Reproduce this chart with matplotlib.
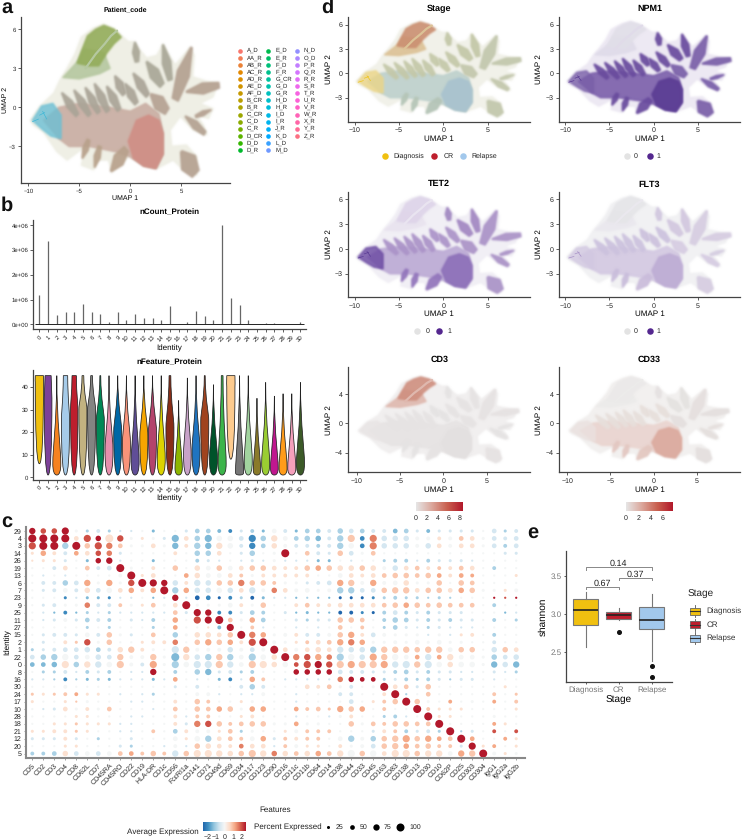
import math
import numpy as np
import matplotlib
matplotlib.use("Agg")
import matplotlib.pyplot as plt
from matplotlib.colors import LinearSegmentedColormap
from matplotlib.patches import Polygon, PathPatch, Rectangle
from matplotlib.path import Path

plt.rcParams['font.family'] = ['Liberation Sans', 'DejaVu Sans']
plt.rcParams['text.hinting'] = 'no_hinting'
plt.rcParams['text.hinting_factor'] = 1

W, H = 744, 840

# ---- umap outline
haze_x = [-9.8, -8.9, -7.5, -6.9, -6.2, -5.4, -4.8, -3.6, -2.6, -1.5, -0.2, 0.3, 0.95, 1.6, 2.6, 3.2, 3.7, 4.4, 5.85, 6.25, 6.1, 7.5, 8.6, 8.1, 6.8, 8.1, 7.65, 6.5, 7.15, 7.5, 6.2, 4.9, 3.9, 4.05, 5.5, 6.5, 6.5, 5.2, 4.2, 2.6, 1.3, -0.2, -1.8, -2.15, -3.3, -3.6, -4.8, -4.4, -6.2, -7.2, -8.5, -9.5]
haze_y = [-1.0, 0.05, 1.1, 2.1, 3.0, 4.15, 5.4, 6.1, 6.4, 5.95, 5.05, 5.05, 4.4, 3.8, 4.0, 4.85, 4.15, 3.25, 4.6, 4.0, 2.35, 2.0, 1.9, 0.8, 0.3, -0.1, -0.85, -0.6, -1.35, -2.1, -1.75, -0.7, -1.75, -3.0, -2.9, -3.8, -5.2, -4.8, -4.05, -4.7, -4.3, -3.8, -4.95, -4.05, -4.05, -4.8, -4.45, -3.0, -4.05, -3.4, -1.9, -1.35]
top_x = [-4.8, -4.2, -3.4, -2.6, -1.6, -0.9, -1.6, -2.3, -3.1, -4.0, -5.2]
top_y = [4.3, 5.5, 6.0, 6.3, 6.0, 5.4, 4.9, 4.2, 3.2, 3.2, 3.4]
band_x = [-6.6, -5.2, -4.5, -2.6, -2.0, -3.0, -5.0]
band_y = [2.3, 3.5, 4.5, 4.2, 3.0, 2.6, 2.2]
body_x = [-8.5, -7.0, -5.0, -2.0, 0.0, 1.5, 2.8, 3.2, 3.2, 2.5, 1.3, 0.0, -1.5, -4.0, -6.0, -7.0]
body_y = [-1.0, 0.0, 0.3, 0.0, -0.3, 0.3, -0.5, -2.0, -3.6, -4.7, -4.5, -3.8, -3.4, -3.0, -3.0, -2.4]
centre_x = [0.6, 1.8, 2.8, 3.2, 3.2, 2.5, 1.3, 0.3, -0.2]
centre_y = [-1.0, -0.6, -1.0, -2.0, -3.6, -4.7, -4.5, -3.9, -2.6]
left_x = [-9.6, -8.7, -7.6, -6.8, -6.8, -7.8, -8.6]
left_y = [-1.0, 0.1, 0.3, -0.6, -2.4, -2.2, -1.7]
gap_x = [-4.4, -3.4, -2.5, -1.9, -1.3]
gap_y = [3.0, 4.1, 4.9, 5.5, 5.9]

# arms as x0, y0, x1, y1, half width
fan_arms = [(-6.7, 1.1, -5.2, -0.6, .35), (-5.5, 1.3, -4.0, -0.6, .35), (-4.4, 1.5, -3.1, -0.4, .35), (-3.5, 1.8, -2.2, -0.3, .38),
            (-2.3, 1.6, -1.1, -0.2, .38), (-1.5, 2.4, -0.6, 1.0, .38), (-0.5, 1.8, 0.6, 0.3, .38), (0.3, 2.6, 1.7, 0.9, .4)]
upper_arms = [(0.45, 5.0, 0.65, 3.5, .33), (3.2, 4.8, 3.9, 2.1, .42), (1.6, 3.5, 3.1, 1.7, .5)]
right_arms = [(6.0, 4.6, 4.4, 0.6, .62), (2.0, 1.0, 3.6, -0.3, .6), (5.5, 1.2, 8.7, 1.7, .42), (5.4, -0.7, 7.3, -2.0, .33),
              (7.9, -0.2, 6.4, -0.7, .18), (5.0, -3.4, 6.4, -5.1, .85)]
low_arms = [(-1.9, -4.9, -0.4, -3.2, .55), (-3.5, -4.6, -3.0, -3.0, .3), (-4.7, -3.9, -4.1, -2.5, .28)]
strands = [(-9.6, -1.1, -9.0, -0.9), (-8.6, -0.3, -8.2, -0.9), (-8.9, -0.6, -8.4, -0.4)]

pal_a = dict(haze='#efefe6', top='#93ad5a', band='#b5c8a0', body='#c9aea3', centre='#d08f86', fan='#aaa597', upper='#aaa897', right='#b5a292', low='#b9a28c', left='#6cc0d4', strand='#3fb8d6')
pal_stage = dict(haze='#f1f1ea', top='#cb8f72', band='#dcc296', body='#bed0cd', centre='#a8c3cf', fan='#c5c9a9', upper='#c3c8a8', right='#c3c7ad', low='#b5c5b8', left='#ebd688', strand='#f0c419')
pal_npm1 = dict(haze='#eeeaf3', top='#e2dfe8', band='#e0dbe9', body='#7a5eaa', centre='#5b3c94', fan='#6a4c9e', upper='#6a4c9e', right='#7a5fa9', low='#6a4c9e', left='#7a5fa9', strand='#5b3c94')
pal_tet2 = dict(haze='#f2eff6', top='#ded5e9', band='#e9e4f0', body='#bca9d4', centre='#8c6fb8', fan='#ab93c9', upper='#a288c2', right='#ab93c8', low='#9276bb', left='#6a48a2', strand='#5b3c94')
pal_flt3 = dict(haze='#f1f1f3', top='#e6e6e8', band='#eae8ee', body='#d3c8e2', centre='#bdacd4', fan='#cdc2de', upper='#d2c8e0', right='#d6cde2', low='#cabddc', left='#d3c8e2', strand='#a993c8')
pal_cd3 = dict(haze='#f1efef', top='#cf8f80', band='#dfb8ae', body='#e6e3e3', centre='#e4e1e1', fan='#e6e3e3', upper='#e6e3e3', right='#e6e3e3', low='#e6e3e3', left='#e8e5e5', strand=None)
pal_cd33 = dict(haze='#f2f0ef', top='#ebe9e9', band='#ecebea', body='#ead5d0', centre='#dba99d', fan='#e7dfdc', upper='#e5e2e1', right='#e5e0de', low='#e3c8c1', left='#ebe2df', strand=None)

# ---- patient legend
patients_a = ['A_D', 'AA_R', 'AB_R', 'AC_R', 'AD_R', 'AE_D', 'AF_D', 'B_CR', 'B_R', 'C_CR', 'C_D', 'C_R', 'D_CR', 'D_D', 'D_R']
patients_b = ['E_D', 'E_R', 'F_D', 'F_R', 'G_CR', 'G_D', 'G_R', 'H_D', 'H_R', 'I_D', 'I_R', 'J_R', 'K_D', 'L_D', 'M_D']
patients_c = ['N_D', 'O_D', 'P_R', 'Q_R', 'R_R', 'S_R', 'T_R', 'U_R', 'V_R', 'W_R', 'X_R', 'Y_R', 'Z_R']

# ---- panel b
clusters = list(range(31))
ncount = [1.18, 3.37, .38, .5, .48, .82, .5, .42, .1, .51, .17, .42, .24, .25, .17, .75, .03, .08, .54, .33, .17, 4.02, 1.08, .79, .16, .02, .06, .04, .03, .02, .09]
vio_colors = ['#F0C010', '#7D4199', '#F58220', '#A6CBE9', '#BE1E2D', '#C2B280', '#848482', '#008856', '#E68FAC', '#0067A5', '#F99379', '#604E97', '#F6A600', '#B3446C', '#DCD300', '#882D17',
              '#8DB600', '#C8A2C8', '#1F74C0', '#A0431F', '#00532A', '#3CB44B', '#FDCB8E', '#777777', '#A2D49F', '#8A7A2A', '#9ACD32', '#C0178F', '#FF9C1A', '#F5A0BC', '#3C5A28']
vio_low = [6, 1, 1, 1, 1, 1, 1, 1, 1, 1, 1, 1, 1, 1, 1, 1, 1, 1, 1, 1, 1, 1, 8, 1, 1, 1, 1, 1, 1, 1, 1]
vio_mode = [42, 35, 6, 25, 30, 30, 30, 25, 12, 20, 15, 7, 18, 20, 8, 22, 4, 10, 12, 25, 8, 6, 40, 2, 7, 3, 6, 4, 4, 4, 6]
vio_high = [45, 45, 45, 45, 45, 45, 45, 45, 45, 45, 45, 45, 45, 45, 45, 45, 34, 44, 45, 45, 41, 45, 45, 45, 45, 35, 42, 36, 37, 37, 42]
vio_topw = [.47, .35, 0, .25, .25, .1, .1, .05, 0, 0, 0, 0, 0, 0, 0, .1, 0, 0, 0, .05, 0, .1, .47, 0, 0, 0, 0, 0, 0, 0, 0]
vio_midw = [.47, .44, .46, .47, .42, .46, .46, .46, .46, .46, .46, .46, .46, .46, .46, .46, .42, .44, .46, .46, .46, .46, .47, .46, .46, .42, .46, .44, .46, .46, .46]

# ---- panel c, one letter per cell (groups of five just for counting)
features = ['CD5', 'CD2', 'CD3', 'CD4', 'CD8', 'CD62L', 'CD7', 'CD45RA', 'CD45RO', 'CD22', 'CD19', 'HLA-DR', 'CD1c', 'CD56', 'FcεRI1a', 'CD141', 'CD71', 'CD49d', 'CD69', 'CD34', 'CD117', 'CD123', 'CD90',
            'CD16', 'CD11c', 'CD11b', 'CD64', 'CD14', 'CD38', 'CD44', 'CD33', 'CD45', 'CD163', 'CD83', 'CD138', 'CD13', 'CD30', 'CD10', 'CD62P', 'CD25', 'CD303', 'CD304', 'IgG1', 'IgG2a', 'IgG2b']
identities = ['29', '4', '3', '14', '26', '19', '13', '6', '7', '23', '9', '25', '11', '27', '15', '2', '1', '22', '0', '8', '16', '30', '24', '17', '10', '28', '18', '21', '12', '20', '5']
expr_codes = dict(A=-2.5, B=-2.0, C=-1.4, D=-1.0, E=-.55, F=-.05, G=.5, H=.85, I=1.2, J=1.6, K=2.0, L=2.5)
expr_rows = ['LKKLF DEDEE FCFFE DDCBE DCFEC DDEDE DEECD ECEEE EFEDE',
             'LLLLG KLGKF GFECG DCFFE BDGFD DCEDH BJEEE FFGFH GFEEE',
             'KLLDL HKJHF FGFCG DCGFE BDGFE EDEDF BJEEE FEGFG GFEDE',
             'GIGEI GKJEF FFFGF DDGFE DFFLF HEEHE FHFFF FFFFF FFFEE',
             'GGGEF CLLEF FCFFF DEEFE EEFEE ECCFE FFDDD EDEEE EFFFF',
             'FFEGF HEELF FGFHF GFHFG HHGGG HIHGG HGFEG HGHGH GFDFF',
             'FEFEF FFFFL GGFFI GFFGH FGGGG GFFFG GGHHH HHIGI IFFFG',
             'FEEDE IFIFK LLLEG EEHHJ HHHFF EEEIH FIFFG FFHFH HFFFF',
             'FEEFE GEFGI GILDI EEFEG EFJGF FFFDD EEHHH GHHGI HFFGF',
             'FFFBE CCBEE FCELE ABABD ACEEC DCCAA ABDDD DDDDF FFLKL',
             'FEEFF JEEHF GHFGL FFFFG FHFFG HGGGG GGHHI HHHHH HFDFF',
             'FECBC DEDEE EEEHE LLBBE DDFEC CCCAA BADED EDEEE FFFCE',
             'FEEFE DEDFE EDFIF KLLHF IDFFE DEEHH HFDDD EDEDE EFDFD',
             'FFFFF DFDFF FDFIF FGCLF HEFFE FEFHF HFDDE EDEEE EFFFF',
             'FEEEE FEHFE FHFDF GGGHL JIFFG EEFHI GEFFF FEFEG GFDFF',
             'FEFGH KFHFF GGGJF HIHIG KLFFG HGHIJ IFFFF FFFFF FFEFF',
             'DEEEE EDEGH GFFEH FFFEF EFLGF GGGEE EDHHH HHHFH HFEHG',
             'EDDFE FEEHF FHFCG EDHDF DFGLJ KIJDF EIHFF IEIGF FFDEE',
             'CCCGD GEFHF EIFDF EEHEF HGGFK KLKHI HHIEE HEFGF FFCEC',
             'FDDEE DEDFE ELFDF DCEED DFFFL LLLEE EEEDD EDEEE EFEED',
             'EEDBD CDCEE ECEIF EFCBE IHFEE EEEJL LLDED DDEDE EFEFF',
             'FFFFF FFFFF FFFEF EFFFE DEFFF GGHFE FFLGH EHFFF FFFGF',
             'HGHHI GGFEF EDFFF FFEFE EFFFE FFFEE FFGLD FHFFF FFHFH',
             'GFFGH FFFFE EFFGF HHFFG FFFFE FFFFE FGHHL HFFIF FFIFH',
             'FEEGF GFHFF FEFHF HHIHF IIFFI HHHIH IFHFF LHGGG FFFFG',
             'FFFFG GFFFE EFFGE HHFFG GFFFE FFEFG FFDDE FLGGF FFFFF',
             'FFGGH GGGEE FFFGE JKHHH HHFFI FFFFH FHHHH HHLFF FFIGF',
             'GGGGH GFFEE FHFDG FFGHD FFFGF HHHFF FEGHD EEDLD EFKFK',
             'EEEGE FDFFE FFFFG FDGHH FIEHG HHFFD FDHHI HIIHL IFFIG',
             'FFFGG FFFED FFEFE HGGGJ GGEHF GGFGF FEHHI HHHHE LGIFG',
             'DDDGE FEFHI HHHEH GGGGH HGJGH GIHGF HFGGG HGGFI HLFGF']
pct_rows = ['65572 23211 12112 44332 32432 44354 43344 23222 21423',
            '88884 75862 22274 57554 75644 55367 47555 33334 42434',
            '78868 57642 24263 66653 64533 33365 47555 35434 42434',
            '25334 45521 11131 55412 51281 43254 24111 11111 11122',
            '12221 25611 12111 32111 21211 12211 11233 13222 11111',
            '11341 43482 13151 54544 55433 55555 55354 43334 41311',
            '11111 11138 24114 54443 23333 31144 34455 45434 31112',
            '13354 62626 87653 65556 55322 23466 36345 22515 41111',
            '12343 54545 35865 55554 63543 42366 44566 45545 52223',
            '11121 22211 11161 44232 32111 11122 22232 21211 11111',
            '12322 53332 24248 22243 25113 43344 44455 54544 41311',
            '11131 21211 11142 76332 43121 21133 22343 23222 11111',
            '11232 43312 13151 77842 54112 22255 41354 23232 21312',
            '11111 21211 12141 11371 31111 11141 31242 12211 11111',
            '12332 43522 14152 55458 65233 33356 34322 21212 31311',
            '12132 62511 23351 56553 78322 34466 52232 42422 11311',
            '22344 54356 32176 33353 43843 45465 56666 56645 51554',
            '45664 45463 36286 56664 75586 66576 57664 46464 42545',
            '44575 66573 37275 77764 77554 77677 77767 67555 52656',
            '12231 32311 16131 56232 31115 55543 32234 23221 11212',
            '11131 22211 12141 11231 53111 11155 44223 23212 21111',
            '11131 11111 11121 31113 53111 43423 12844 25111 11121',
            '22233 22111 12111 33111 13111 11133 11381 14111 11312',
            '21121 21111 11131 53112 21111 11114 12358 52131 21313',
            '11242 32411 11141 54552 55114 34265 51311 83222 11112',
            '11112 21111 11131 33112 31111 11123 11231 18221 11211',
            '11222 22211 11132 66534 55224 22115 24355 44811 11321',
            '22332 21111 13143 33242 21123 33311 12333 23281 21313',
            '22232 12112 11142 56443 45233 33146 35567 56448 41132',
            '11122 11122 11131 55434 44133 22132 34565 45332 72312',
            '33454 44444 35365 77655 76554 55467 56477 56646 68322']
legend_pct = [25, 50, 75, 100]
expr_ticks = [-2, -1, 0, 1, 2]

# ---- panel e
stages = ['Diagnosis', 'CR', 'Relapse']
stage_colors = ['#F0C010', '#BE1E2D', '#A2C8EC']
q1 = [2.86, 2.93, 2.80]
med = [3.055, 2.985, 2.92]
q3 = [3.19, 3.02, 3.09]
whislo = [2.57, 2.92, 2.39]
whishi = [3.29, 3.08, 3.26]
fliers = [[], [2.77], [2.315, 2.18]]
pvals = ['0.67', '0.37', '0.14']
p_from = [1, 2, 1]
p_to = [2, 3, 3]
p_y = [3.35, 3.47, 3.61]


def hcl(h, c=100, l=65):
    u, v = c * math.cos(math.radians(h)), c * math.sin(math.radians(h))
    y = ((l + 16) / 116) ** 3
    up, vp = u / (13 * l) + .1978, v / (13 * l) + .4683
    x = 9 * y * up / (4 * vp)
    z = -x / 3 - 5 * y + 3 * y / vp
    rgb = [3.2406 * x - 1.5372 * y - .4986 * z, -.9689 * x + 1.8758 * y + .0415 * z, .0557 * x - .204 * y + 1.057 * z]
    out = []
    for ch in rgb:
        ch = min(max(ch, 0), 1)
        out.append(1.055 * ch ** (1 / 2.4) - .055 if ch > .0031 else 12.92 * ch)
    return tuple(out)


def axpx(l, t, r, b):
    ax = fig.add_axes([l / W, 1 - b / H, (r - l) / W, (b - t) / H])
    ax.spines['top'].set_visible(False)
    ax.spines['right'].set_visible(False)
    for s in ['left', 'bottom']:
        ax.spines[s].set_linewidth(.9)
        ax.spines[s].set_color('#444444')
    return ax


def soft_edge(img, dpi):
    # blur only the alpha, the patches are one colour each
    pad = 5
    a = np.pad(img, ((pad, pad), (pad, pad), (0, 0)))
    alpha = a[:, :, 3]
    if alpha.max() == 0:
        return img, 0, 0
    rgb = a[alpha > .5][:, :3].mean(axis=0) if (alpha > .5).any() else a[alpha > 0][:, :3].mean(axis=0)
    k = [.06, .24, .4, .24, .06]
    for axis in (0, 1):
        alpha = sum(w * np.roll(alpha, s, axis=axis) for w, s in zip(k, [-2, -1, 0, 1, 2]))
    a[:, :, :3] = rgb
    a[:, :, 3] = alpha
    return a, -pad, -pad


def blob(ax, xs, ys, color, alpha=.9, z=2):
    p = Polygon(np.column_stack([xs, ys]), closed=True, fc=color, ec=color, lw=1.2, alpha=alpha, joinstyle='round', zorder=z)
    p.set_agg_filter(soft_edge)
    ax.add_patch(p)


def spindle(ax, arm, color, z=4):
    x0, y0, x1, y1, w = arm
    dx, dy = x1 - x0, y1 - y0
    n = math.hypot(dx, dy)
    mx, my = (x0 + x1) / 2, (y0 + y1) / 2
    xs = [x0 - .1 * w * dy / n, mx - w * dy / n, x1 - .5 * w * dy / n, x1 + .5 * w * dy / n, mx + w * dy / n, x0 + .1 * w * dy / n]
    ys = [y0 + .1 * w * dx / n, my + w * dx / n, y1 + .5 * w * dx / n, y1 - .5 * w * dx / n, my - w * dx / n, y0 - .1 * w * dx / n]
    blob(ax, xs, ys, color, alpha=.92, z=z)


def umap(box, ylab_px, xl, yl, yt, pal, title, lab=6, tick=5, tsize=6.5, tpad=2, lpad=1):
    ax = axpx(*box)
    blob(ax, haze_x, haze_y, pal['haze'], alpha=1, z=1)
    blob(ax, band_x, band_y, pal['band'], z=2)
    blob(ax, top_x, top_y, pal['top'], z=3)
    ax.plot(gap_x, gap_y, color=pal['band'], lw=1.6, solid_capstyle='round', zorder=3.5)
    blob(ax, body_x, body_y, pal['body'], z=3)
    blob(ax, left_x, left_y, pal['left'], alpha=.8, z=3)
    for arm in fan_arms:
        spindle(ax, arm, pal['fan'])
    for arm in upper_arms:
        spindle(ax, arm, pal['upper'])
    for arm in right_arms:
        spindle(ax, arm, pal['right'])
    for arm in low_arms:
        spindle(ax, arm, pal['low'])
    blob(ax, centre_x, centre_y, pal['centre'], z=5)
    if pal['strand']:
        for s in strands:
            ax.plot(s[::2], s[1::2], color=pal['strand'], lw=.5, solid_capstyle='round', zorder=6)
    ax.set_xlim(*xl)
    ax.set_ylim(*yl)
    ax.set_xticks([-10, -5, 0, 5])
    ax.set_yticks(yt)
    ax.tick_params(length=2, width=.6, color='#444444', labelsize=tick, labelcolor='#222222', pad=tpad)
    ax.set_xlabel('UMAP 1', fontsize=lab, labelpad=lpad)
    ax.set_ylabel('UMAP 2', fontsize=lab)
    ax.yaxis.set_label_coords(-(box[0] - ylab_px - 3) / (box[2] - box[0]), .5)
    ax.set_title(title, fontsize=tsize, fontweight='bold', pad=4)
    return ax


fig = plt.figure(figsize=(W / 100, H / 100), dpi=100)

# ---- a
umap((20.6, 17, 230, 183.3), 5.5, (-10.76, 9.77), (-5.84, 6.95), [-3, 0, 3, 6], pal_a, 'Patient_code', lab=4.8, tick=4, tsize=5.4, tpad=1.5, lpad=1)

# ---- d
XD = (-10.7, 9.75)
umap((348.3, 16.7, 530, 121.7), 329.5, XD, (-5.97, 6.99), [-3, 0, 3, 6], pal_stage, 'Stage')
umap((559, 16.7, 740, 121.7), 540, XD, (-5.97, 6.99), [-3, 0, 3, 6], pal_npm1, 'NPM1')
umap((348.3, 192, 530, 297), 329.5, XD, (-5.82, 6.9), [-3, 0, 3, 6], pal_tet2, 'TET2')
umap((559, 192, 740, 297), 540, XD, (-5.82, 6.9), [-3, 0, 3, 6], pal_flt3, 'FLT3')
umap((348.3, 367.3, 530, 472.3), 329.5, (-10.96, 10), (-6.68, 7.64), [-4, 0, 4], pal_cd3, 'CD3')
umap((559, 367.3, 740, 472.3), 540, (-10.96, 10), (-6.68, 7.64), [-4, 0, 4], pal_cd33, 'CD33')

# ---- b top
ax = axpx(33.3, 220, 305.7, 329.3)
ax.vlines(clusters, 0, ncount, color='#666666', lw=.9)
ax.hlines(0, -.45, 30.45, color='#222222', lw=.7)
ax.set_xlim(-.7, 30.6)
ax.set_ylim(-.2, 4.22)
ax.set_yticks([0, 1, 2, 3, 4])
ax.set_yticklabels(['0e+00', '1e+06', '2e+06', '3e+06', '4e+06'])
ax.set_xticks(clusters)
ax.set_xticklabels(clusters, rotation=45, ha='right', rotation_mode='anchor')
ax.tick_params(length=2, width=.6, color='#444444', labelsize=4.6, labelcolor='#222222', pad=1.5)
ax.set_xlabel('Identity', fontsize=5.5, labelpad=1)
ax.set_title('nCount_Protein', fontsize=6, fontweight='bold', pad=4)

# ---- b violins
ax = axpx(33.3, 370, 305.7, 480)
for i in clusters:
    lo, mo, hi, tw, w = vio_low[i], vio_mode[i], vio_high[i], vio_topw[i], vio_midw[i]
    right = [(i + w * .7, lo), (i + w, mo - (mo - lo) * .6), (i + w, mo), (i + w, mo + (hi - mo) * .2), (i + tw + .03, mo + (hi - mo) * .42), (i + tw, hi)]
    left = [(2 * i - px, py) for px, py in right[::-1]]
    verts = [(i, lo)] + right + left + [(i, lo)]
    codes = [Path.MOVETO] + [Path.CURVE4] * 6 + [Path.LINETO] + [Path.CURVE4] * 6
    ax.add_patch(PathPatch(Path(verts, codes), fc=vio_colors[i], ec='#222222', lw=.55))
ax.set_xlim(-.7, 30.6)
ax.set_ylim(-1.2, 47.5)
ax.set_yticks([0, 10, 20, 30, 40])
ax.set_xticks(clusters)
ax.set_xticklabels(clusters, rotation=45, ha='right', rotation_mode='anchor')
ax.tick_params(length=2, width=.6, color='#444444', labelsize=4.6, labelcolor='#222222', pad=1.5)
ax.set_xlabel('Identity', fontsize=5.5, labelpad=1)
ax.set_title('nFeature_Protein', fontsize=6, fontweight='bold', pad=4)

# ---- c
dot_cmap = LinearSegmentedColormap.from_list('dot', ['#2166ac', '#4393c3', '#92c5de', '#d1e5f0', '#f7f7f7', '#fddbc7', '#f4a582', '#d6604d', '#b2182b'])


def dot_size(pct):
    return ((1.4 + .066 * pct) * .72) ** 2


ax = axpx(25.7, 527, 525, 758)
for r, (er, pr) in enumerate(zip(expr_rows, pct_rows)):
    ev = [expr_codes[c] for c in er.replace(' ', '')]
    pv = [int(c) * 12.5 for c in pr.replace(' ', '')]
    ax.scatter(range(len(ev)), [r] * len(ev), c=ev, s=[dot_size(p) for p in pv], cmap=dot_cmap, vmin=-2.5, vmax=2.5, linewidths=0)
ax.set_xlim(-.6, 44.8)
ax.set_ylim(30.6, -.54)
ax.set_xticks(range(len(features)))
ax.set_xticklabels(features, rotation=45, ha='right', rotation_mode='anchor')
ax.set_yticks(range(len(identities)))
ax.set_yticklabels(identities)
ax.tick_params(length=1.5, width=.5, color='#777777', labelsize=5.3, labelcolor='#222222', pad=1.5)
ax.spines['left'].set_linewidth(1.5)
ax.spines['bottom'].set_linewidth(1.5)
ax.spines['left'].set_color('#888888')
ax.spines['bottom'].set_color('#888888')
ax.set_ylabel('Identity', fontsize=5.8, labelpad=1.5)

# ---- e
ax = axpx(565.7, 550.7, 671.7, 682.3)
stats = [dict(med=med[i], q1=q1[i], q3=q3[i], whislo=whislo[i], whishi=whishi[i], fliers=fliers[i]) for i in range(3)]
bp = ax.bxp(stats, positions=[1, 2, 3], widths=.76, patch_artist=True,
            boxprops=dict(edgecolor='#777777', linewidth=.8), medianprops=dict(color='#222222', linewidth=1.2),
            whiskerprops=dict(color='#777777', linewidth=.8), showcaps=False,
            flierprops=dict(marker='o', markersize=2.6, markerfacecolor='#111111', markeredgecolor='#111111'))
for b, c in zip(bp['boxes'], stage_colors):
    b.set_facecolor(c)
for a, b, y, p in zip(p_from, p_to, p_y, pvals):
    ax.plot([a, a, b, b], [y - .03, y, y, y - .03], color='#888888', lw=.7)
    ax.text((a + b) / 2, y - .005, p, ha='center', va='bottom', fontsize=6.2, color='#222222')
ax.set_xlim(.394, 3.606)
ax.set_ylim(2.108, 3.826)
ax.set_yticks([2.5, 3.0, 3.5])
ax.set_yticklabels(['2.5', '3.0', '3.5'])
ax.set_xticks([1, 2, 3])
ax.set_xticklabels(stages)
ax.tick_params(length=1.5, width=.6, color='#444444', labelsize=6, labelcolor='#777777', pad=1.5)
ax.set_xlabel('Stage', fontsize=7.3, labelpad=1)
ax.set_ylabel('shannon', fontsize=7.3, labelpad=2)

# ---- overlay for letters, legends and colour bars
ov = fig.add_axes([0, 0, 1, 1], facecolor='none', zorder=20)
ov.set_xlim(0, W)
ov.set_ylim(H, 0)
ov.axis('off')
for letter, x, y in [('a', 1, 8), ('b', 1, 206), ('c', 1, 522), ('d', 321, 8), ('e', 527, 533)]:
    ov.text(x, y, letter, fontsize=14.5, fontweight='bold', ha='left', va='center', color='#111111')

hue_i = 0
n_pat = len(patients_a) + len(patients_b) + len(patients_c)
for names, dx, tx in [(patients_a, 240, 246.7), (patients_b, 268.3, 275.3), (patients_c, 297.3, 304)]:
    for k, name in enumerate(names):
        y = 50.7 + k * 7.09
        ov.scatter([dx], [y], s=11, color=[hcl(15 + 360 * hue_i / n_pat)], linewidths=0)
        ov.text(tx, y, name, fontsize=4, va='center', color='#222222')
        hue_i += 1

for name, c, dx, tx in zip(stages, stage_colors, [384.7, 434.3, 462.7], [393.7, 443.3, 471.7]):
    ov.scatter([dx], [156], s=22, color=c, linewidths=0)
    ov.text(tx, 156, name, fontsize=5.2, va='center', color='#222222')
for y, d0, t0, d1, t1 in [(156, 627, 636, 649.7, 658), (331.3, 417.3, 427.7, 439, 449.7), (331.3, 627, 636, 649.7, 658)]:
    ov.scatter([d0], [y], s=22, color='#e3e3e3', linewidths=0)
    ov.text(t0, y, '0', fontsize=5.2, va='center', ha='center', color='#222222')
    ov.scatter([d1], [y], s=22, color='#54278f', linewidths=0)
    ov.text(t1, y, '1', fontsize=5.2, va='center', ha='center', color='#222222')

grad = np.linspace(0, 1, 128).reshape(1, -1)
gene_cmap = LinearSegmentedColormap.from_list('gene', ['#e6e6e6', '#dba79c', '#c9604f', '#b2182b'])
for left, step, ticks in [(416, 5.5, [0, 2, 4, 6, 8]), (626, 6.1, [0, 2, 4, 6])]:
    ov.imshow(grad, extent=(left, left + 46.7, 511, 502), cmap=gene_cmap, aspect='auto', zorder=2)
    for t in ticks:
        ov.text(left + step * t, 518, str(t), fontsize=5, ha='center', va='center', color='#222222')

ov.imshow(grad, extent=(203, 246, 831, 822), cmap=dot_cmap, aspect='auto', zorder=2)
for t, x in zip(expr_ticks, [207.6, 216, 225, 233.6, 241.5]):
    ov.text(x, 837, str(t).replace('-', '−'), fontsize=5, ha='center', va='center', color='#222222')
ov.text(275, 810, 'Features', fontsize=5.8, ha='center', va='center', color='#222222')
ov.text(199, 832, 'Average Expression', fontsize=5.8, ha='right', va='center', color='#222222')
ov.text(254, 827, 'Percent Expressed', fontsize=5.8, ha='left', va='center', color='#222222')
for p, dx, tx in zip(legend_pct, [328, 352, 376, 400], [340, 364, 388, 415]):
    ov.scatter([dx], [827], s=dot_size(p), color='black', linewidths=0)
    ov.text(tx, 827, str(p), fontsize=5, ha='center', va='center', color='#222222')

ov.text(687.7, 594, 'Stage', fontsize=7.3, va='center', color='#222222')
for name, c, y in zip(stages, stage_colors, [611, 624.7, 638]):
    ov.plot([695, 695], [y - 6, y + 6], color='#555555', lw=.6, zorder=2)
    ov.add_patch(Rectangle((690, y - 3.5), 10, 7, fc=c, ec='#666666', lw=.6, zorder=3))
    ov.plot([690, 700], [y, y], color='#333333', lw=.8, zorder=4)
    ov.text(706.7, y, name, fontsize=6, va='center', color='#333333')
ov.set_xlim(0, W)
ov.set_ylim(H, 0)

fig.savefig('out.png', dpi=100)
